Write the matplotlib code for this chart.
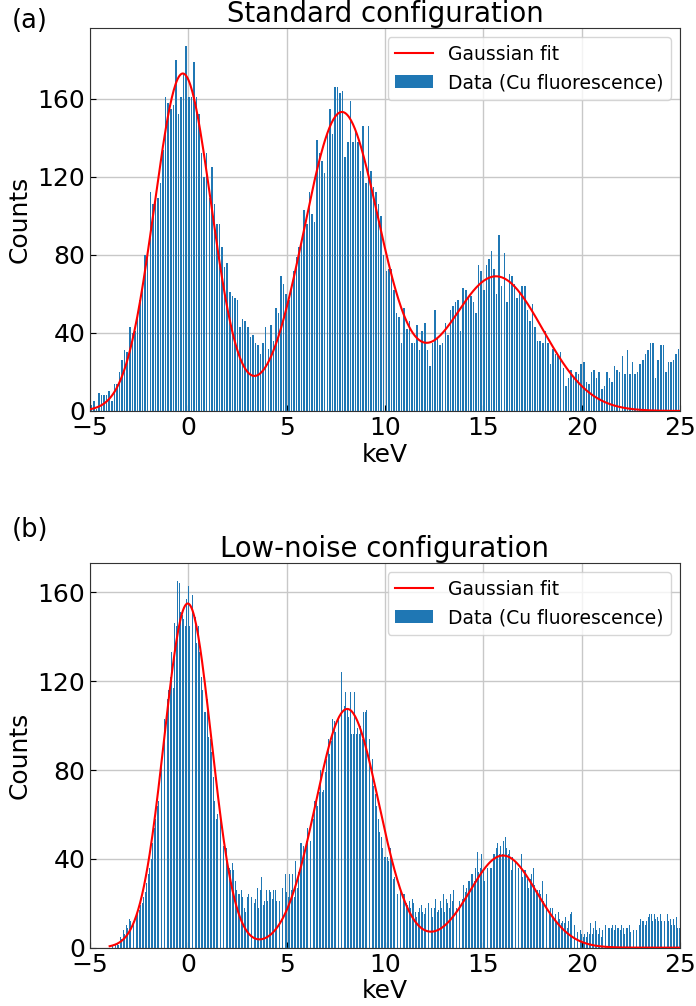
import numpy as np
import matplotlib
matplotlib.use('Agg')
import matplotlib.pyplot as plt
from matplotlib.ticker import MultipleLocator
from matplotlib.lines import Line2D
from matplotlib.patches import Patch

# ---------------- data ----------------
range_a = (-5, 25)
counts_a = [
    3, 5, 1, 9, 8, 8, 8, 10, 5, 14, 14, 20, 26, 31, 30, 43, 40, 41, 49, 57, 65, 80, 82,
    112, 106, 110, 109, 117, 134,
    161, 158, 155, 157, 180, 152, 161, 173, 187, 161, 161, 179,
    161, 152, 132, 120, 132, 109, 125, 106, 96, 96, 84, 74, 76, 61, 59, 58, 57, 43, 47, 46,
    43, 38, 39, 35, 34, 29, 35, 43, 32, 44, 36, 53, 50,
    69, 65, 60, 57, 62, 72, 79, 84, 88, 103, 96, 112, 101, 97, 139, 132, 128, 122, 142, 155,
    142, 166, 166, 163, 164, 130, 138, 159, 138, 144, 138, 123, 146, 117, 146, 123, 115, 112,
    106, 100, 80, 72,
    73, 73, 62, 50, 48, 35, 53, 42, 46, 35, 35, 44, 31, 41, 45, 31, 23, 35, 52, 37,
    34, 35, 45, 39, 52, 54, 56, 57, 41, 63, 62, 59, 59, 56, 50, 75,
    72, 62, 75, 78, 82, 73, 60, 90, 64, 81, 56, 70, 69, 65, 58, 61, 64, 64, 52, 46,
    55, 43, 36, 36, 35, 41, 35, 24, 32, 29, 28, 30, 22, 13, 17, 21, 18, 20, 19, 24,
    25, 15, 14, 20, 21, 17, 20, 11, 13, 20, 17, 15, 23, 21, 20, 28, 19, 31, 19, 25,
    19, 20, 24, 26, 29, 31, 35, 35, 17, 26, 34, 34, 20, 25, 25, 26, 29, 32,
]
fit_a_amp = [173, 153, 69]
fit_a_mu = [-0.28, 7.8, 15.65]
fit_a_sigma = [1.45, 1.92, 2.37]
fit_a_range = (-5, 25)

range_b = (-5, 25)
counts_b = [
    # -5.0 ... -3.6 keV
    0, 0, 0, 0, 0, 0, 0, 0, 0, 0, 0, 0, 0, 0,
    0, 1, 0, 1, 2, 1,
    5, 4, 8, 6, 10, 9, 13, 12, 13, 12, 15, 14, 15, 17, 19, 20, 23, 25, 29, 33,
    36, 40, 47, 54, 58, 64, 66,
    90, 86, 95, 103, 110, 112, 116, 122,
    # first peak
    133, 117, 146, 145, 165, 164, 151, 150, 148, 145,
    157, 163, 145, 139, 159, 142, 149, 137, 145, 133,
    122, 116, 106, 106, 112, 95, 94, 88, 77, 66,
    58, 60, 58, 60, 56, 46, 44, 45, 39, 36,
    35, 38, 35, 30, 26, 24, 24, 26, 23, 18,
    16, 23, 24, 28, 23, 24, 20, 22, 27, 18,
    26, 32, 19, 21, 26, 21, 26, 25, 22, 26,
    26, 21, 27, 21, 22, 27, 27, 33, 25, 23,
    33, 26, 33, 23, 39, 27, 34, 47, 47, 46,
    # second peak
    44, 48, 54, 55, 48, 62, 58, 66, 68, 64,
    70, 80, 70, 71, 79, 85, 94, 87, 93, 103,
    102, 97, 91, 103, 101, 124, 110, 109, 115, 108,
    104, 115, 96, 96, 115, 96, 99, 96, 100, 94,
    106, 106, 107, 96, 94, 88, 85, 73, 69, 64,
    58, 52, 50,
    45, 41, 41, 41, 39, 45, 39, 31, 32, 27,
    24, 22, 26, 27, 24, 24, 20, 19, 21, 18,
    22, 20, 16, 14, 16, 18, 19, 16, 15, 18,
    17, 20, 14, 18, 14, 18, 22, 16, 17, 21,
    18, 24, 16, 22, 20, 18, 24, 21, 26, 23,
    18, 26, 21, 19, 22, 28, 25, 27, 30, 30,
    # third peak
    33, 33, 30, 36, 43, 34, 36, 42, 35, 30,
    38, 36, 39, 36, 36, 42, 42, 45, 47, 42,
    46, 42, 48, 50, 45, 42, 44, 35, 41, 36,
    39, 52, 36, 39, 42, 32, 35, 35, 31, 27,
    31, 33, 36, 28, 25, 26, 26, 24, 30, 21,
    22, 24, 17, 15, 18, 18, 13, 15, 12, 16,
    13, 11, 12, 11, 14, 9, 12, 15, 16, 14,
    # tail
    10, 6, 7, 6, 8, 6, 5, 6, 5, 7,
    6, 11, 6, 9, 12, 8, 6, 9, 5, 8,
    6, 10, 12, 9, 9, 9, 10, 8, 10, 9,
    9, 8, 10, 9, 6, 9, 9, 10, 7, 9,
    8, 9, 8, 11, 10, 13, 12, 12, 10, 12,
    14, 15, 15, 12, 15, 13, 14, 12, 15, 12,
    14, 12, 15, 15, 12, 13, 10, 13, 10, 14,
    9, 9,
]
fit_b_amp = [155, 107.5, 41.5]
fit_b_mu = [-0.03, 8.08, 16.0]
fit_b_sigma = [1.2, 1.6, 1.7]
fit_b_range = (-4, 25)

titles = ["Standard configuration", "Low-noise configuration"]
panel_labels = ["(a)", "(b)"]
xticks = [-5, 0, 5, 10, 15, 20, 25]

BAR_COLOR = '#1f77b4'
LINE_COLOR = 'red'


def gauss_sum(x, amps, mus, sigmas):
    y = np.zeros_like(x)
    for a, m, s in zip(amps, mus, sigmas):
        y += a * np.exp(-(x - m) ** 2 / (2 * s ** 2))
    return y


fig = plt.figure(figsize=(6.96, 10.06), dpi=100)
ax1 = fig.add_axes([0.1293, 0.5915, 0.8477, 0.3807])
ax2 = fig.add_axes([0.1293, 0.058, 0.8477, 0.3824])

panels = [
    (ax1, counts_a, range_a, fit_a_amp, fit_a_mu, fit_a_sigma, fit_a_range, titles[0], 3.6),
    (ax2, counts_b, range_b, fit_b_amp, fit_b_mu, fit_b_sigma, fit_b_range, titles[1], 4.5),
]

for ax, counts, rng, amps, mus, sigs, frng, title, tpad in panels:
    n = len(counts)
    edges = np.linspace(rng[0], rng[1], n + 1)
    centers = 0.5 * (edges[:-1] + edges[1:])
    w = edges[1] - edges[0]
    ax.bar(centers, counts, width=0.6 * w, color=BAR_COLOR, linewidth=0, zorder=2)
    xf = np.linspace(frng[0], frng[1], 600)
    ax.plot(xf, gauss_sum(xf, amps, mus, sigs), color=LINE_COLOR, lw=1.5, zorder=3)
    ax.set_xlim(-5, 25)
    ax.set_xticks(xticks)
    ax.yaxis.set_major_locator(MultipleLocator(40))
    ax.grid(True, color='#c8c8c8', lw=1.0, zorder=0)
    ax.set_axisbelow(True)
    ax.tick_params(direction='in', labelsize=18, length=4)
    ax.set_xlabel('keV', fontsize=18, labelpad=2)
    ax.set_ylabel('Counts', fontsize=18, labelpad=4)
    ax.set_title(title, fontsize=19.8, pad=tpad)
    for s in ax.spines.values():
        s.set_color('#333333')
    handles = [Line2D([], [], color=LINE_COLOR, lw=1.5),
               Patch(facecolor=BAR_COLOR)]
    ax.legend(handles, ['Gaussian fit', 'Data (Cu fluorescence)'],
              loc='upper right', fontsize=13.5)

fig.text(0.017, 1 - 28 / 1006, panel_labels[0], ha='left', va='baseline', fontsize=18.5)
fig.text(0.017, 1 - 537 / 1006, panel_labels[1], ha='left', va='baseline', fontsize=18.5)

fig.savefig('out.png', dpi=100)
